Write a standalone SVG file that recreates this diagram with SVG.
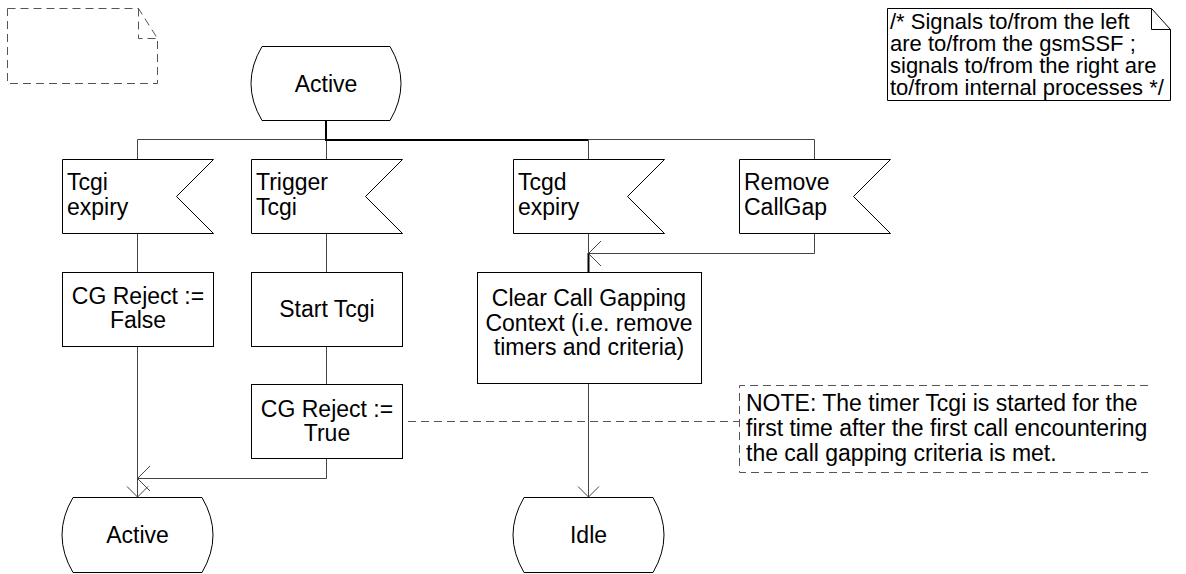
<svg xmlns="http://www.w3.org/2000/svg" width="1186" height="574" viewBox="0 0 1186 574">
<style>
text{font-family:"Liberation Sans",Arial,Helvetica,sans-serif;font-size:23px;fill:#000}
.c{text-anchor:middle}
.cm{font-size:22px}
.shape{fill:#fff;stroke:#000;stroke-width:1}
.ln{fill:none;stroke:#444;stroke-width:1}
.bold{fill:none;stroke:#000;stroke-width:2}
.dash{fill:none;stroke:#555;stroke-width:1;stroke-dasharray:8 5}
</style>
<rect width="1186" height="574" fill="#fff"/>

<g id="connectors">
  <path class="ln" d="M137.5,139.5 H814.5 M137.5,139.5 V159 M326.5,139.5 V159 M588.5,139.5 V159 M814.5,139.5 V159"/>
  <path class="bold" d="M326,121 V140 H588"/>
  <path class="ln" d="M137.5,234 V272 M137.5,347 V497"/>
  <path class="ln" d="M326.5,234 V272 M326.5,347 V384 M326.5,459 V478.5 H137.5"/>
  <path class="ln" d="M588.5,234 V253.5 M814.5,234 V253.5 H588.5 M588.5,384 V497"/>
  <path class="bold" d="M588.5,253 V272"/>
  <path class="ln" d="M150,466 L137.5,478.5 L150,491"/>
  <path class="ln" d="M127,486.5 L137.5,497 L148,486.5"/>
  <path class="ln" d="M601,241 L588.5,253.5 L601,266"/>
  <path class="ln" d="M578,486.5 L588.5,497 L599,486.5"/>
  <path class="dash" d="M408,421.5 H739"/>
</g>

<g id="doc-frame">
  <path class="dash" d="M7.5,8.5 H138.5 L157.5,38.5 V83.5 H7.5 Z M138.5,8.5 V38.5 H157.5"/>
</g>

<g id="comment">
  <path class="shape" d="M887.5,8.5 H1151.5 L1170.5,29.5 V100.5 H887.5 Z M1151.5,8.5 V29.5 H1170.5"/>
  <text class="cm" x="890" y="29">/* Signals to/from the left</text>
  <text class="cm" x="890" y="51">are to/from the gsmSSF ;</text>
  <text class="cm" x="890" y="73">signals to/from the right are</text>
  <text class="cm" x="890" y="95">to/from internal processes */</text>
</g>

<g id="state-active-top">
  <path class="shape" d="M262,46.5 H390 Q412,83.5 390,120.5 H262 Q240,83.5 262,46.5 Z"/>
  <text class="c" x="326" y="92">Active</text>
</g>

<g id="input-tcgi-expiry">
  <path class="shape" d="M62.5,159.5 H213.5 L176.5,196.5 L213.5,233.5 H62.5 Z"/>
  <text x="67" y="190">Tcgi</text>
  <text x="67" y="215">expiry</text>
</g>
<g id="input-trigger-tcgi">
  <path class="shape" d="M251.5,159.5 H402.5 L365.5,196.5 L402.5,233.5 H251.5 Z"/>
  <text x="256" y="190">Trigger</text>
  <text x="256" y="215">Tcgi</text>
</g>
<g id="input-tcgd-expiry">
  <path class="shape" d="M513.5,159.5 H664.5 L627.5,196.5 L664.5,233.5 H513.5 Z"/>
  <text x="518" y="190">Tcgd</text>
  <text x="518" y="215">expiry</text>
</g>
<g id="input-remove-callgap">
  <path class="shape" d="M739.5,159.5 H890.5 L853.5,196.5 L890.5,233.5 H739.5 Z"/>
  <text x="744" y="190">Remove</text>
  <text x="744" y="215">CallGap</text>
</g>

<g id="task-cg-false">
  <rect class="shape" x="62.5" y="272.5" width="151" height="74"/>
  <text class="c" x="138" y="304">CG Reject :=</text>
  <text class="c" x="138" y="328">False</text>
</g>
<g id="task-start-tcgi">
  <rect class="shape" x="251.5" y="272.5" width="151" height="74"/>
  <text class="c" x="327" y="317">Start Tcgi</text>
</g>
<g id="task-cg-true">
  <rect class="shape" x="251.5" y="384.5" width="151" height="74"/>
  <text class="c" x="327" y="417">CG Reject :=</text>
  <text class="c" x="327" y="441">True</text>
</g>
<g id="task-clear">
  <rect class="shape" x="477.5" y="272.5" width="224" height="111"/>
  <text class="c" x="589" y="306">Clear Call Gapping</text>
  <text class="c" x="589" y="330.5">Context (i.e. remove</text>
  <text class="c" x="589" y="355">timers and criteria)</text>
</g>

<g id="note">
  <path class="dash" d="M1148,385.5 H739.5 V472.5 H1148"/>
  <text x="746" y="411">NOTE: The timer Tcgi is started for the</text>
  <text x="746" y="436">first time after the first call encountering</text>
  <text x="746" y="461">the call gapping criteria is met.</text>
</g>

<g id="state-active-bottom">
  <path class="shape" d="M73,497.5 H202 Q224,535 202,572.5 H73 Q51,535 73,497.5 Z"/>
  <text class="c" x="137.5" y="543">Active</text>
</g>
<g id="state-idle">
  <path class="shape" d="M524,497.5 H653 Q675,535 653,572.5 H524 Q502,535 524,497.5 Z"/>
  <text class="c" x="588.5" y="543">Idle</text>
</g>
</svg>
